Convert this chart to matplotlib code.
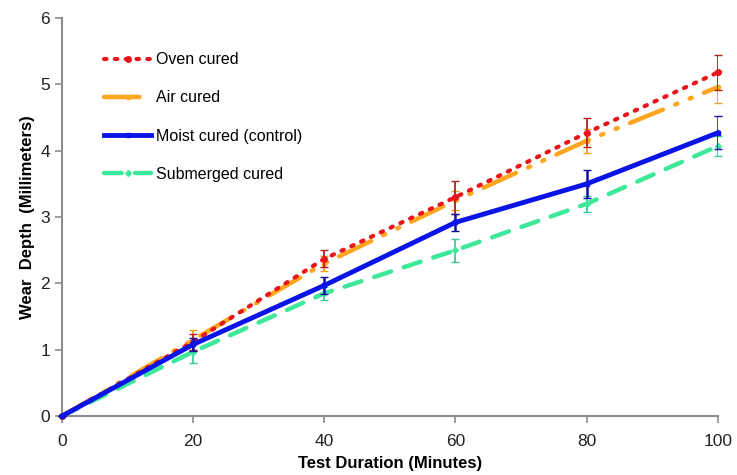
import matplotlib
matplotlib.use("Agg")
import numpy as np
import matplotlib.pyplot as plt

plt.rcParams['font.family'] = ['Liberation Sans', 'DejaVu Sans']

# test duration (minutes)
minutes = [0, 20, 40, 60, 80, 100]

# wear depth (mm) and error bars
oven = [0, 1.12, 2.37, 3.30, 4.27, 5.18]
oven_err = [0, 0.12, 0.13, 0.25, 0.22, 0.27]
air = [0, 1.15, 2.30, 3.25, 4.15, 4.96]
air_err = [0, 0.15, 0.12, 0.15, 0.18, 0.24]
moist = [0, 1.08, 1.97, 2.92, 3.50, 4.27]
moist_err = [0, 0.10, 0.13, 0.13, 0.21, 0.25]
submerged = [0, 0.97, 1.85, 2.50, 3.20, 4.07]
submerged_err = [0, 0.17, 0.10, 0.17, 0.12, 0.15]

fig = plt.figure(figsize=(7.37, 4.75), dpi=100)
ax = fig.add_axes([0.084, 0.124, 0.890, 0.838])

c1 = ax.errorbar(minutes, oven, yerr=oven_err, color='#e8151b', ecolor='#b22222',
                 linestyle=(0, (0.6, 2.0)), linewidth=3, dash_capstyle='round',
                 marker='o', markersize=4, capsize=3, elinewidth=1.3, label='Oven cured', zorder=3)
c2 = ax.errorbar(minutes, air, yerr=air_err, color='#ffa51e', ecolor='#f0a020',
                 linestyle=(0, (8, 3, 0.5, 3, 0.5, 3)), linewidth=3.2, dash_capstyle='round',
                 marker='o', markersize=3, capsize=3, elinewidth=1.3, label='Air cured', zorder=2)
c3 = ax.errorbar(minutes, moist, yerr=moist_err, color='#0a14e6', ecolor='#1010a0',
                 linestyle='-', linewidth=3.5, marker='s', markersize=3.5,
                 capsize=3, elinewidth=1.8, label='Moist cured (control)', zorder=4)
c4 = ax.errorbar(minutes, submerged, yerr=submerged_err, color='#3ee89a', ecolor='#3cc9a0',
                 linestyle=(0, (4, 3)), linewidth=3.2, dash_capstyle='round',
                 marker='D', markersize=3, capsize=3, elinewidth=1.3, label='Submerged cured', zorder=1)

ax.set_xlim(0, 100)
ax.set_ylim(0, 6)
ax.set_xticks([0, 20, 40, 60, 80, 100])
ax.set_yticks([0, 1, 2, 3, 4, 5, 6])
ax.spines['top'].set_visible(False)
ax.spines['right'].set_visible(False)
for s in ['left', 'bottom']:
    ax.spines[s].set_color('#8c8c8c')
    ax.spines[s].set_linewidth(1.5)
ax.tick_params(colors='#8c8c8c', labelcolor='#222222', labelsize=12.5, length=5, width=1.2)
ax.tick_params(axis='x', pad=8)
for ln in ax.get_lines():
    ln.set_clip_on(False)

ax.set_xlabel('Test Duration (Minutes)', fontsize=12, fontweight='bold', labelpad=5)
ax.set_ylabel('Wear  Depth  (Millimeters)', fontsize=12, fontweight='bold', labelpad=4)

handles = [c[0] for c in (c1, c2, c3, c4)]
labels = ['Oven cured', 'Air cured', 'Moist cured (control)', 'Submerged cured']
ax.legend(handles, labels, loc='upper left', bbox_to_anchor=(0.043, 0.95), frameon=False,
          fontsize=11.5, handlelength=2.9, labelspacing=1.45, handletextpad=0.35)

plt.savefig('out.png', dpi=100)
